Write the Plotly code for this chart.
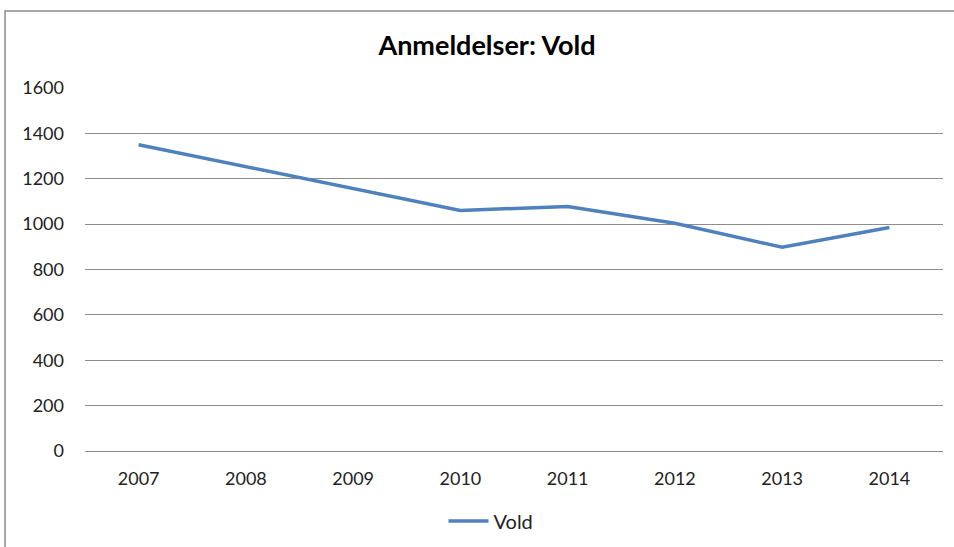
import plotly.graph_objects as go

years = ["2007", "2008", "2009", "2010", "2011", "2012", "2013", "2014"]
vold = [1350, 1253, 1155, 1060, 1078, 1004, 898, 985]
y_ticks = [0, 200, 400, 600, 800, 1000, 1200, 1400, 1600]

fig = go.Figure(
    go.Scatter(
        x=years,
        y=vold,
        mode="lines",
        name="Vold",
        line=dict(color="#4F81BD", width=3.5),
    )
)

fig.update_layout(
    width=954,
    height=547,
    margin=dict(l=85, r=11, t=88, b=96),
    paper_bgcolor="white",
    plot_bgcolor="white",
    font=dict(family="Lato, Liberation Sans, sans-serif", size=18, color="#222222"),
    title=dict(
        text="<b>Anmeldelser: Vold</b>",
        x=487 / 954,
        xanchor="center",
        y=1 - 46 / 547,
        yanchor="middle",
        font=dict(size=27, color="#000000"),
    ),
    showlegend=True,
    legend=dict(
        orientation="h",
        x=491 / 954,
        xref="container",
        xanchor="center",
        y=1 - 521 / 547,
        yref="container",
        yanchor="middle",
        font=dict(size=20),
        itemwidth=40,
    ),
    # outer chart frame (top and left edges visible)
    shapes=[
        dict(
            type="rect",
            xref="paper",
            yref="paper",
            x0=-0.0932,
            x1=1.2,
            y0=-0.4,
            y1=1.2121,
            line=dict(color="#8c8c8c", width=1.5),
            layer="below",
        )
    ],
)

fig.update_xaxes(
    type="category",
    range=[-0.5, 7.5],
    showgrid=False,
    showline=False,
    ticks="",
    ticklabelstandoff=15,
)
fig.update_yaxes(
    range=[0, 1600],
    tickvals=y_ticks,
    showgrid=True,
    gridcolor="#8c8c8c",
    gridwidth=1,
    zeroline=True,
    zerolinecolor="#8c8c8c",
    zerolinewidth=1,
    ticks="",
    ticklabelstandoff=20,
)

# drop the browser's default body margin so the figure sits at the page corner
fig.write_html(
    "out.html",
    config={"displayModeBar": False},
    post_script="document.body.style.margin = '0';",
)
